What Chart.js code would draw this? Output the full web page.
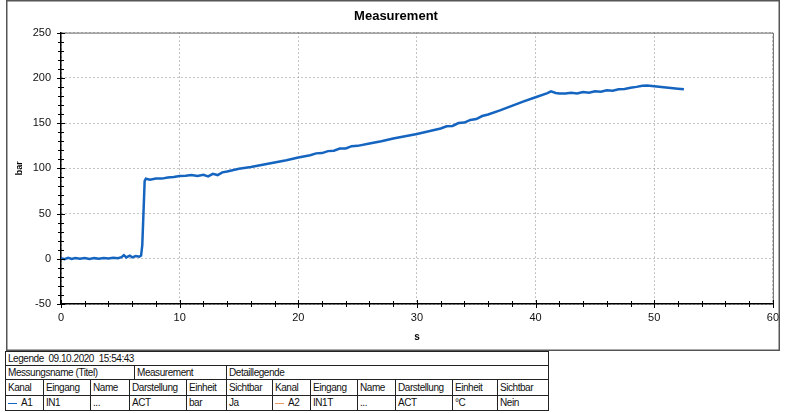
<!DOCTYPE html>
<html>
<head>
<meta charset="utf-8">
<title>Measurement</title>
<script src="https://cdn.jsdelivr.net/npm/chart.js@4.4.1/dist/chart.umd.min.js"></script>
<style>
  body { margin: 0; background: #fff; font-family: 'Liberation Sans', Arial, sans-serif; }
  #wrap { position: absolute; left: 6px; top: 0; width: 780px; height: 351px; }
  .c { position: absolute; box-sizing: border-box; border: 1px solid #222; padding-left: 2px;
       font-size: 10px; letter-spacing: -0.45px; color: #111; white-space: nowrap; overflow: hidden; }
  .mk { display: inline-block; width: 9px; height: 1px; vertical-align: middle; margin-right: 4px; }
</style>
</head>
<body>
<div id="wrap"><canvas id="measChart"></canvas></div>

<!-- legend table -->
<div class="c" style="left:5px;top:351px;width:544px;height:15px;line-height:13px">Legende&nbsp; 09.10.2020&nbsp; 15:54:43</div>

<div class="c" style="left:5px;top:365px;width:130px;height:15px;line-height:13px">Messungsname (Titel)</div>
<div class="c" style="left:134px;top:365px;width:93px;height:15px;line-height:13px">Measurement</div>
<div class="c" style="left:226px;top:365px;width:323px;height:15px;line-height:13px">Detaillegende</div>

<div class="c" style="left:5px;top:379px;width:39px;height:17px;line-height:15px">Kanal</div>
<div class="c" style="left:43px;top:379px;width:48px;height:17px;line-height:15px">Eingang</div>
<div class="c" style="left:90px;top:379px;width:40px;height:17px;line-height:15px">Name</div>
<div class="c" style="left:129px;top:379px;width:58px;height:17px;line-height:15px">Darstellung</div>
<div class="c" style="left:186px;top:379px;width:41px;height:17px;line-height:15px">Einheit</div>
<div class="c" style="left:226px;top:379px;width:47px;height:17px;line-height:15px">Sichtbar</div>
<div class="c" style="left:272px;top:379px;width:39px;height:17px;line-height:15px">Kanal</div>
<div class="c" style="left:310px;top:379px;width:48px;height:17px;line-height:15px">Eingang</div>
<div class="c" style="left:357px;top:379px;width:39px;height:17px;line-height:15px">Name</div>
<div class="c" style="left:395px;top:379px;width:58px;height:17px;line-height:15px">Darstellung</div>
<div class="c" style="left:452px;top:379px;width:46px;height:17px;line-height:15px">Einheit</div>
<div class="c" style="left:497px;top:379px;width:52px;height:17px;line-height:15px">Sichtbar</div>

<div class="c" style="left:5px;top:395px;width:39px;height:16px;line-height:14px"><span class="mk" style="background:#1565c0"></span>A1</div>
<div class="c" style="left:43px;top:395px;width:48px;height:16px;line-height:14px">IN1</div>
<div class="c" style="left:90px;top:395px;width:40px;height:16px;line-height:14px">...</div>
<div class="c" style="left:129px;top:395px;width:58px;height:16px;line-height:14px">ACT</div>
<div class="c" style="left:186px;top:395px;width:41px;height:16px;line-height:14px">bar</div>
<div class="c" style="left:226px;top:395px;width:47px;height:16px;line-height:14px">Ja</div>
<div class="c" style="left:272px;top:395px;width:39px;height:16px;line-height:14px"><span class="mk" style="background:#e59a68"></span>A2</div>
<div class="c" style="left:310px;top:395px;width:48px;height:16px;line-height:14px">IN1T</div>
<div class="c" style="left:357px;top:395px;width:39px;height:16px;line-height:14px">...</div>
<div class="c" style="left:395px;top:395px;width:58px;height:16px;line-height:14px">ACT</div>
<div class="c" style="left:452px;top:395px;width:46px;height:16px;line-height:14px">°C</div>
<div class="c" style="left:497px;top:395px;width:52px;height:16px;line-height:14px">Nein</div>

<script>
// A1 / IN1 pressure trace
const timeS = [0, 0.3, 0.6, 0.9, 1.2, 1.6, 2, 2.4, 2.8, 3.2, 3.6, 4, 4.4, 4.8, 5.1, 5.3, 5.5, 5.8, 6.0, 6.3,
  6.6, 6.75, 6.85, 6.95, 7.05, 7.15, 7.5, 8, 8.5, 9, 9.5, 10, 10.5, 11, 11.5, 12, 12.4, 12.8, 13.2, 13.6,
  14, 15, 16, 17, 18, 19, 20, 21, 21.5, 22, 22.5, 23, 23.5, 24, 24.5, 25, 26, 27, 28, 29,
  30, 31, 32, 32.5, 33, 33.5, 34, 34.5, 35, 35.5, 36, 37, 38, 39, 40, 41, 41.3, 41.7, 42, 42.5,
  43, 43.5, 44, 44.5, 45, 45.5, 46, 46.5, 47, 47.5, 48, 48.5, 49, 49.4, 50, 51, 52, 52.5];
const pressureBar = [0.5, -0.5, 1, -0.3, 0.8, 0, 0.9, -0.2, 0.7, 0.1, 0.9, 0.3, 1.1, 0.6, 1.8, 4, 1.5, 3.5, 1.6, 3,
  2.2, 3.5, 15, 50, 86, 88.5, 87.5, 88.8, 88.6, 89.8, 90.5, 91.5, 91.8, 92.6, 91.4, 92.8, 91, 93.8, 92.5, 95.5,
  96.5, 99.5, 101.5, 104, 106.5, 109, 112, 114.5, 116.5, 116.8, 119, 119.5, 121.8, 122, 124.5, 124.8, 127.5, 130, 133, 135.5,
  138, 141, 144, 146.5, 146.8, 150, 150.5, 153.5, 154.5, 157.8, 159.5, 164, 169, 174, 178.5, 183, 185, 183.2, 182.6, 182.8,
  183.6, 182.8, 184.4, 183.6, 185.2, 184.6, 186.2, 185.8, 187.4, 187.6, 189, 190, 191.2, 191.6, 190.6, 189.2, 188, 187.4];

// axis ticks (minor + labelled major)
const xTicks = [0, 2, 4, 6, 8, 10, 12, 14, 16, 18, 20, 22, 24, 26, 28, 30, 32, 34, 36, 38, 40, 42, 44, 46, 48, 50, 52, 54, 56, 58, 60];
const xLabelTicks = [0, 10, 20, 30, 40, 50, 60];
const yTicks = [-50, -40, -30, -20, -10, 0, 10, 20, 30, 40, 50, 60, 70, 80, 90, 100, 110, 120, 130, 140, 150,
  160, 170, 180, 190, 200, 210, 220, 230, 240, 250];
const yLabelTicks = [-50, 0, 50, 100, 150, 200, 250];

const FONT = 'Liberation Sans, Arial, sans-serif';
const FRAME_W = 774;   // outer frame, narrower than the canvas

// crossing tick marks, plot box and outer frame
const framePlugin = {
    id: 'framePlugin',
    afterDatasetsDraw(chart) {
        const ctx = chart.ctx;
        const a = chart.chartArea;
        const xs = chart.scales.x, ys = chart.scales.y;
        ctx.save();
        // top / right of plot box
        ctx.strokeStyle = '#666';
        ctx.lineWidth = 1;
        ctx.beginPath();
        ctx.moveTo(a.left, a.top + 0.5);
        ctx.lineTo(a.right + 0.5, a.top + 0.5);
        ctx.lineTo(a.right + 0.5, a.bottom);
        ctx.stroke();
        // ticks
        ctx.strokeStyle = '#000';
        ctx.lineWidth = 1;
        ctx.beginPath();
        xTicks.forEach(v => {
            const px = Math.round(xs.getPixelForValue(v)) + 0.5;
            const len = xLabelTicks.includes(v) ? 4 : 3;
            ctx.moveTo(px, a.bottom - len);
            ctx.lineTo(px, a.bottom + len);
        });
        yTicks.forEach(v => {
            const py = Math.round(ys.getPixelForValue(v)) + 0.5;
            const len = yLabelTicks.includes(v) ? 4 : 3;
            ctx.moveTo(a.left - len, py);
            ctx.lineTo(a.left + len, py);
        });
        ctx.stroke();
        // outer frame
        ctx.strokeStyle = '#555';
        ctx.lineWidth = 1.5;
        ctx.strokeRect(0.75, 0.75, FRAME_W - 1.5, chart.height - 1.5);
        ctx.restore();
    }
};

const ctx = document.getElementById('measChart').getContext('2d');
new Chart(ctx, {
    type: 'line',
    data: {
        datasets: [{
            label: 'A1',
            data: timeS.map((t, i) => ({ x: t, y: pressureBar[i] })),
            borderColor: '#1565c0',
            borderWidth: 2.5,
            pointRadius: 0,
            tension: 0,
            fill: false
        }]
    },
    options: {
        responsive: true,
        maintainAspectRatio: false,
        animation: false,
        layout: { padding: { left: 0, right: 0, top: 0, bottom: 0 } },
        plugins: {
            legend: { display: false },
            tooltip: { enabled: false },
            title: {
                display: true,
                text: 'Measurement',
                color: '#000',
                font: { family: FONT, size: 13, weight: 'bold' },
                padding: { top: 9, bottom: 8 }
            }
        },
        scales: {
            x: {
                type: 'linear',
                min: 0,
                max: 60,
                afterBuildTicks: s => { s.ticks = xTicks.map(v => ({ value: v })); },
                afterFit: s => { s.height = 47; },
                ticks: {
                    autoSkip: false,
                    maxRotation: 0,
                    padding: 7,
                    color: '#111',
                    font: { family: FONT, size: 11 },
                    callback: v => xLabelTicks.includes(v) ? String(v) : ''
                },
                grid: {
                    drawTicks: false,
                    lineWidth: 1,
                    color: c => (c.tick && xLabelTicks.includes(c.tick.value)) ? '#8a8a8a' : 'rgba(0,0,0,0)'
                },
                border: { display: true, color: '#000', width: 1.5, dash: [1, 3] },
                title: {
                    display: true,
                    text: 's',
                    color: '#000',
                    font: { family: FONT, size: 10, weight: 'bold' },
                    padding: { top: 0, bottom: 8 }
                }
            },
            y: {
                type: 'linear',
                min: -50,
                max: 250,
                afterBuildTicks: s => { s.ticks = yTicks.map(v => ({ value: v })); },
                afterFit: s => { s.width = 55; },
                ticks: {
                    autoSkip: false,
                    padding: 10,
                    color: '#111',
                    font: { family: FONT, size: 11 },
                    callback: v => yLabelTicks.includes(v) ? String(v) : ''
                },
                grid: {
                    drawTicks: false,
                    lineWidth: 1,
                    color: c => (c.tick && yLabelTicks.includes(c.tick.value)) ? '#8a8a8a' : 'rgba(0,0,0,0)'
                },
                border: { display: true, color: '#000', width: 1.5, dash: [1, 3] },
                title: {
                    display: true,
                    text: 'bar',
                    color: '#000',
                    font: { family: FONT, size: 9, weight: 'bold' },
                    padding: { top: 8, bottom: 0 }
                }
            }
        }
    },
    plugins: [framePlugin]
});
</script>
</body>
</html>
